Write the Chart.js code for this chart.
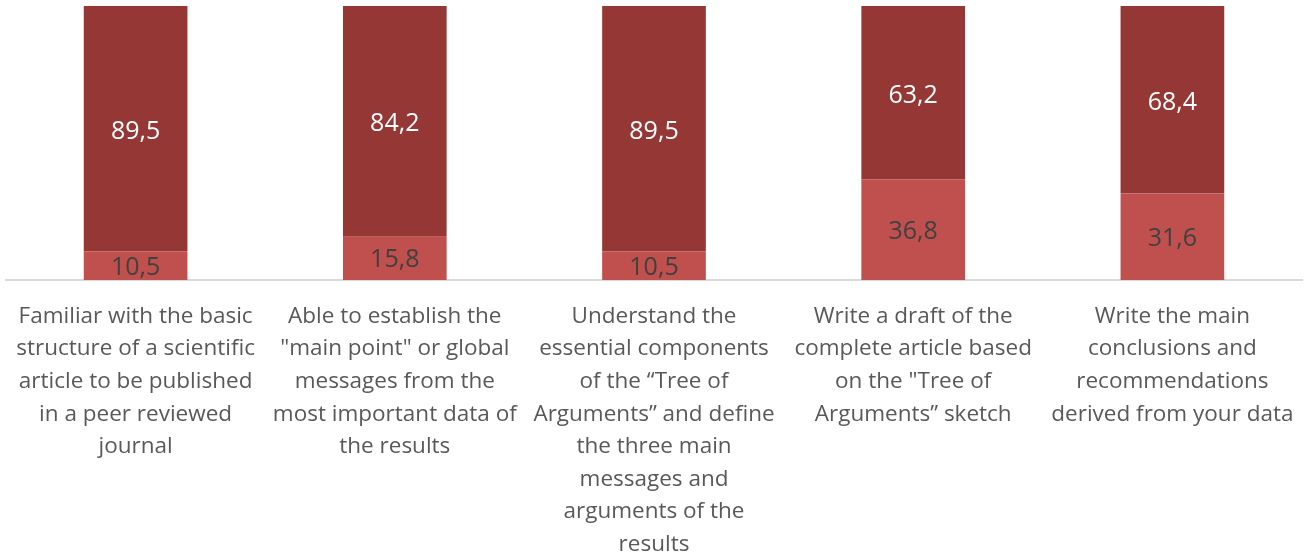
<!DOCTYPE html>
<html>
<head>
<meta charset="utf-8">
<script src="https://cdn.jsdelivr.net/npm/chart.js@4/dist/chart.umd.min.js"></script>
<style>
html,body{margin:0;padding:0;background:#fff;}
#wrap{width:1309px;height:555px;position:relative;}
</style>
</head>
<body>
<div id="wrap"><canvas id="c" width="1309" height="555"></canvas></div>
<script>
const categories = [
  ["Familiar with the basic","structure of a scientific","article to be published","in a peer reviewed","journal"],
  ["Able to establish the","\"main point\" or global","messages from the","most important data of","the results"],
  ["Understand the","essential components","of the \u201cTree of","Arguments\u201d and define","the three main","messages and","arguments of the","results"],
  ["Write a draft of the","complete article based","on the \"Tree of","Arguments\u201d sketch"],
  ["Write the main","conclusions and","recommendations","derived from your data"]
];
const lowerValues = [10.5, 15.8, 10.5, 36.8, 31.6];
const upperValues = [89.5, 84.2, 89.5, 63.2, 68.4];

const labelPlugin = {
  id: 'barLabels',
  afterDatasetsDraw(chart) {
    const ctx = chart.ctx;
    ctx.save();
    ctx.textAlign = 'center';
    ctx.textBaseline = 'middle';
    ctx.font = '25px "Open Sans"';
    chart.data.datasets.forEach((ds, di) => {
      const meta = chart.getDatasetMeta(di);
      ctx.fillStyle = ds.labelColor;
      meta.data.forEach((bar, i) => {
        const v = ds.data[i];
        const y = (bar.y + bar.base) / 2 + ds.labelShift;
        ctx.fillText(v.toFixed(1).replace('.', ','), bar.x, y);
      });
    });
    ctx.restore();
  }
};

new Chart(document.getElementById('c'), {
  type: 'bar',
  data: {
    labels: categories,
    datasets: [
      {data: lowerValues, backgroundColor: '#C0504D', labelColor: '#404040', labelShift: 2},
      {data: upperValues, backgroundColor: '#953735', labelColor: '#ffffff', labelShift: 3}
    ]
  },
  options: {
    responsive: false,
    animation: false,
    layout: {padding: {left: 6, right: 7, top: 6, bottom: 0}},
    plugins: {legend: {display: false}, tooltip: {enabled: false}},
    datasets: {bar: {categoryPercentage: 1, barPercentage: 0.4}},
    scales: {
      x: {
        stacked: true,
        grid: {display: false, drawTicks: false},
        border: {display: true, color: '#D9D9D9', width: 2},
        ticks: {
          maxRotation: 0, autoSkip: false, padding: 20,
          color: '#595959',
          font: {family: '"Open Sans"', size: 22.5, lineHeight: 1.45}
        },
        afterFit(scale) {
          scale.height = 275;
          scale.paddingLeft = 0;
          scale.paddingRight = 0;
        }
      },
      y: {stacked: true, display: false, min: 0, max: 100}
    }
  },
  plugins: [labelPlugin]
});
</script>
</body>
</html>
